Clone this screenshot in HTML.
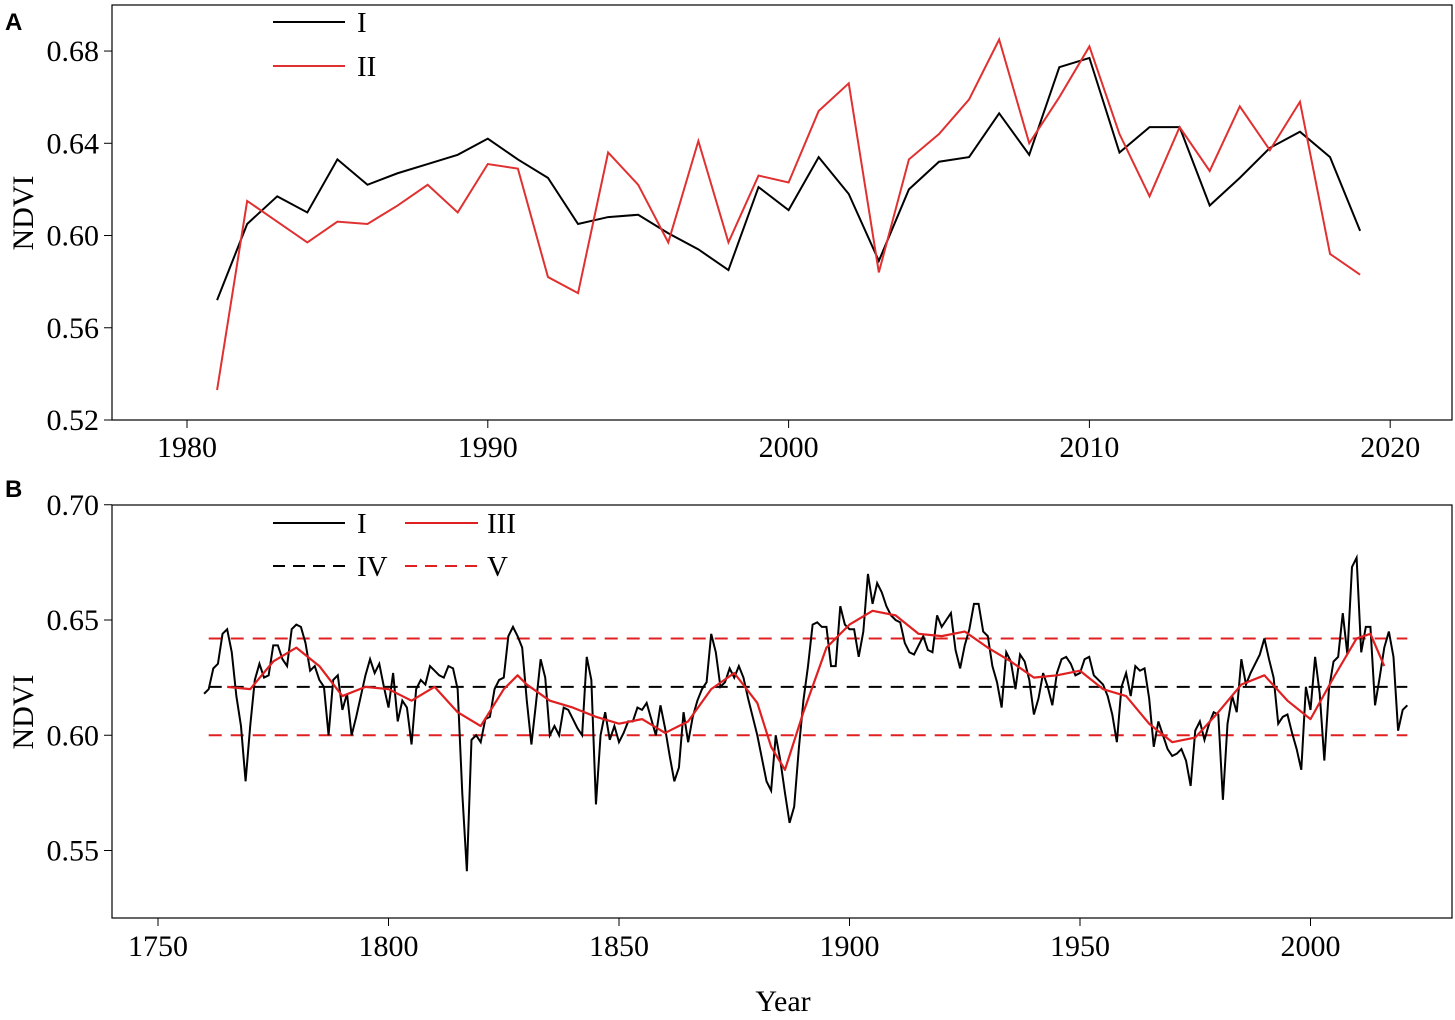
<!DOCTYPE html>
<html><head><meta charset="utf-8"><style>
body{margin:0;background:#fff}
svg{display:block;font-family:"Liberation Serif",serif}
</style></head><body>
<svg id="chart" width="1455" height="1020" viewBox="0 0 1455 1020" xmlns="http://www.w3.org/2000/svg">
<text x="5" y="30" font-family="Liberation Sans,sans-serif" font-weight="bold" font-size="24">A</text>
<text x="5" y="497" font-family="Liberation Sans,sans-serif" font-weight="bold" font-size="24">B</text>
<rect x="112" y="5" width="1340" height="415" fill="none" stroke="#000" stroke-width="1.2"/>
<rect x="112" y="505" width="1340" height="413" fill="none" stroke="#000" stroke-width="1.2"/>
<text transform="translate(33,213) rotate(-90)" text-anchor="middle" font-size="30">NDVI</text>
<text transform="translate(33,712) rotate(-90)" text-anchor="middle" font-size="30">NDVI</text>
<text x="783" y="1011" text-anchor="middle" font-size="30">Year</text>
<g id="ga"></g><g id="gb"></g>
<g>
<line x1="273" y1="22" x2="345" y2="22" stroke="#000" stroke-width="2"/><text x="357" y="32" font-size="29">I</text>
<line x1="273" y1="66" x2="345" y2="66" stroke="#e03030" stroke-width="2"/><text x="357" y="76" font-size="29">II</text>
</g>
<g>
<line x1="273" y1="523" x2="345" y2="523" stroke="#000" stroke-width="2"/><text x="357" y="533" font-size="29">I</text>
<line x1="405" y1="523" x2="478" y2="523" stroke="#e02020" stroke-width="2"/><text x="487" y="533" font-size="29">III</text>
<line x1="273" y1="566" x2="345" y2="566" stroke="#000" stroke-width="2" stroke-dasharray="12,8"/><text x="357" y="576" font-size="29">IV</text>
<line x1="405" y1="566" x2="478" y2="566" stroke="#e02020" stroke-width="2" stroke-dasharray="12,8"/><text x="487" y="576" font-size="29">V</text>
</g>
</svg>
<script>
const aYears=[];for(let y=1981;y<=2019;y++)aYears.push(y);
const aSeriesI=[.572,.605,.617,.610,.633,.622,.627,.631,.635,.642,.633,.625,.605,.608,.609,.601,.594,.585,.621,.611,.634,.618,.589,.620,.632,.634,.653,.635,.673,.677,.636,.647,.647,.613,.625,.638,.645,.634,.602];
const aSeriesII=[.533,.615,.606,.597,.606,.605,.613,.622,.610,.631,.629,.582,.575,.636,.622,.597,.641,.597,.626,.623,.654,.666,.584,.633,.644,.659,.685,.640,.660,.682,.644,.617,.647,.628,.656,.637,.658,.592,.583];
const aXTicks=[1980,1990,2000,2010,2020];
const aYTicks=[0.52,0.56,0.60,0.64,0.68];
const bStart=1760;
const bSeriesI=[.618,.620,.629,.631,.644,.646,.636,.617,.604,.580,.604,.624,.631,.625,.626,.639,.639,.633,.630,.646,.648,.647,.640,.628,.630,.624,.621,.600,.624,.626,.611,.618,.600,.608,.617,.626,.633,.627,.631,.621,.612,.627,.606,.615,.612,.596,.620,.624,.622,.630,.628,.626,.625,.630,.629,.620,.575,.541,.598,.600,.597,.607,.608,.620,.624,.625,.643,.647,.643,.638,.615,.596,.614,.633,.625,.600,.604,.600,.612,.611,.607,.603,.600,.634,.624,.570,.600,.610,.598,.604,.597,.601,.606,.606,.612,.611,.614,.607,.600,.613,.603,.591,.580,.586,.610,.597,.608,.615,.620,.623,.644,.636,.621,.623,.629,.625,.630,.625,.616,.608,.600,.590,.580,.576,.600,.589,.575,.562,.569,.594,.615,.630,.648,.649,.647,.647,.630,.630,.656,.648,.646,.646,.634,.645,.670,.657,.666,.662,.656,.652,.650,.649,.640,.636,.635,.639,.643,.637,.636,.652,.647,.650,.653,.637,.629,.639,.646,.657,.657,.645,.643,.630,.623,.612,.636,.632,.620,.635,.632,.624,.609,.616,.627,.621,.613,.627,.633,.634,.631,.626,.627,.633,.634,.626,.624,.622,.617,.609,.597,.621,.627,.617,.630,.628,.629,.616,.595,.606,.600,.594,.591,.592,.594,.589,.578,.602,.606,.598,.605,.610,.609,.572,.605,.617,.610,.633,.622,.627,.631,.635,.642,.633,.625,.605,.608,.609,.601,.594,.585,.621,.611,.634,.618,.589,.620,.632,.634,.653,.635,.673,.677,.636,.647,.647,.613,.625,.638,.645,.634,.602,.611,.613];
const bSmoothYears=[1765,1770,1775,1780,1785,1790,1795,1800,1805,1810,1815,1820,1825,1828,1830,1835,1840,1845,1850,1855,1860,1865,1870,1875,1880,1883,1886,1890,1895,1900,1905,1910,1915,1920,1925,1930,1935,1940,1945,1950,1955,1960,1965,1970,1975,1980,1985,1990,1995,2000,2005,2010,2013,2016];
const bSmoothIII=[.621,.620,.632,.638,.630,.617,.621,.620,.615,.621,.610,.604,.620,.626,.622,.615,.612,.608,.605,.607,.601,.606,.620,.627,.614,.595,.585,.610,.638,.648,.654,.652,.644,.643,.645,.638,.632,.625,.626,.628,.620,.617,.605,.597,.599,.610,.622,.626,.615,.607,.625,.642,.644,.630];
const bMeanIV=[0.621];
const bBoundsV=[0.600,0.642];
const bXTicks=[1750,1800,1850,1900,1950,2000];
const bYTicks=[0.55,0.60,0.65,0.70];
const NS='http://www.w3.org/2000/svg';
function mk(p,t,a){const e=document.createElementNS(NS,t);for(const k in a)e.setAttribute(k,a[k]);p.appendChild(e);return e;}
const ax=y=>187+(y-1980)*30.08, ay=v=>420-(v-0.52)*2306;
const bx=y=>158+(y-1750)*4.61, by=v=>620-(v-0.65)*2305;
const ga=document.getElementById('ga'), gb=document.getElementById('gb');
aXTicks.forEach(t=>{const l=mk(ga,'line',{x1:ax(t),x2:ax(t),y1:420,y2:428,stroke:'#000'});

const tx=mk(ga,'text',{x:ax(t),y:457,'text-anchor':'middle','font-size':30});tx.textContent=t;
});
aYTicks.forEach(t=>{const l=mk(ga,'line',{x1:104,x2:112,y1:ay(t),y2:ay(t),stroke:'#000'});

const tx=mk(ga,'text',{x:99,y:ay(t)+10,'text-anchor':'end','font-size':30});tx.textContent=t.toFixed(2);
});
bXTicks.forEach(t=>{const l=mk(gb,'line',{x1:bx(t),x2:bx(t),y1:918,y2:926,stroke:'#000'});

const tx=mk(gb,'text',{x:bx(t),y:956,'text-anchor':'middle','font-size':30});tx.textContent=t;
});
bYTicks.forEach(t=>{const l=mk(gb,'line',{x1:104,x2:112,y1:by(t),y2:by(t),stroke:'#000'});

const tx=mk(gb,'text',{x:99,y:by(t)+10,'text-anchor':'end','font-size':30});tx.textContent=t.toFixed(2);
});
const pa1=mk(ga,'polyline',{points:aSeriesI.map((v,i)=>ax(aYears[i])+','+ay(v)).join(' '),fill:'none',stroke:'#000','stroke-width':2});

const pa2=mk(ga,'polyline',{points:aSeriesII.map((v,i)=>ax(aYears[i])+','+ay(v)).join(' '),fill:'none',stroke:'#e03030','stroke-width':2});

const bEnd=bStart+bSeriesI.length-1;
[[bMeanIV[0],'#000','mean-iv-line'],[bBoundsV[0],'#e02020','lower-v-line'],[bBoundsV[1],'#e02020','upper-v-line']].forEach(d=>{
const l=mk(gb,'line',{x1:bx(bStart+1),x2:bx(bEnd),y1:by(d[0]),y2:by(d[0]),stroke:d[1],'stroke-width':2,'stroke-dasharray':'13,9'});
});
const pb1=mk(gb,'polyline',{points:bSeriesI.map((v,i)=>bx(bStart+i)+','+by(v)).join(' '),fill:'none',stroke:'#000','stroke-width':2});

const pb3=mk(gb,'polyline',{points:bSmoothIII.map((v,i)=>bx(bSmoothYears[i])+','+by(v)).join(' '),fill:'none',stroke:'#e02020','stroke-width':2.2,'stroke-linejoin':'round'});

</script>
</body></html>
